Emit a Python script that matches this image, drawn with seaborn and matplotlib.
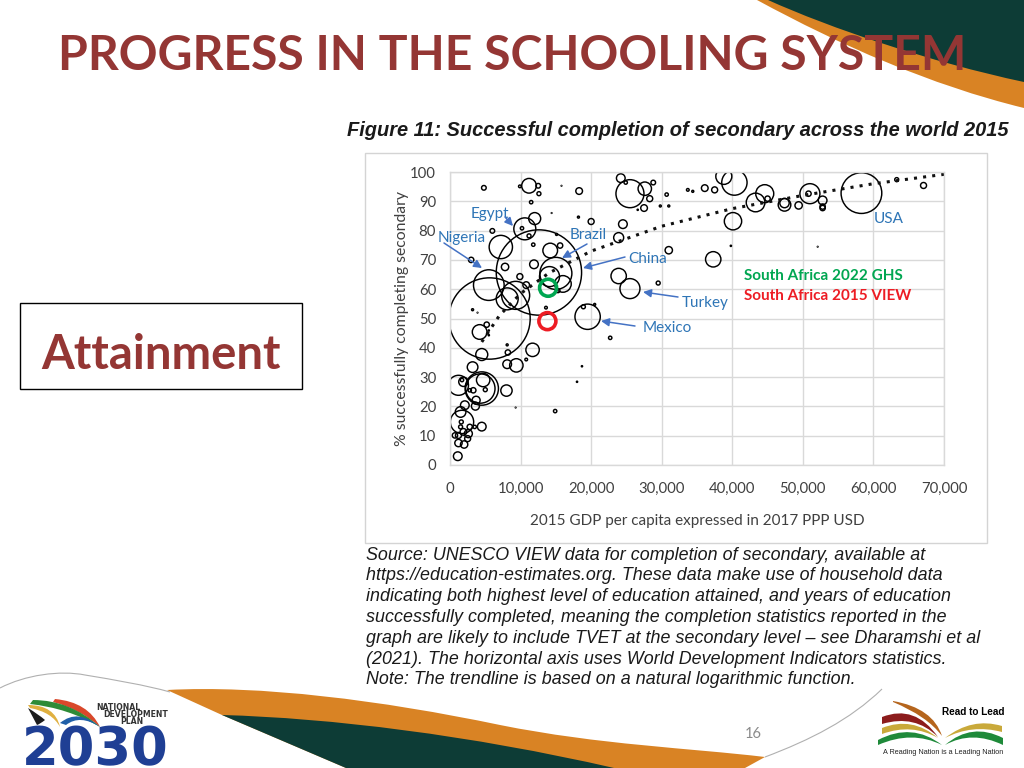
import numpy as np
import pandas as pd
import matplotlib
matplotlib.use("Agg")
import matplotlib.pyplot as plt
from matplotlib.path import Path
from matplotlib.patches import PathPatch, Rectangle
import seaborn as sns

# === Data ===
gdp = [4800, 9900, 11200, 12500, 12600, 11500, 15800, 18300, 14400, 18200, 20000, 12000, 10600, 10200, 6000,
       11200, 7200, 11800, 15100, 14200, 15600, 3000, 7800, 11900, 12600, 5500, 5600, 8100, 9900, 10800,
       9300, 14100, 15000, 16000, 15300, 23900, 25500, 29500, 19500, 18900, 20500, 13600, 22700, 5200, 4200,
       3200, 3900, 5500, 5500, 8100, 8200, 4500, 11700, 10800, 8100, 9400, 3200, 18700, 18000, 1200,
       1900, 4700, 4500, 4300, 5000, 8000, 3700, 3600, 2100, 1500, 9300, 14900, 1700, 4500, 2800,
       1600, 1200, 2600, 1900, 700, 1200, 2000, 2500, 1100, 1500, 3500, 1700, 3300, 2800, 24200,
       24900, 25500, 27600, 28800, 28300, 27500, 26600, 30700, 29800, 31000, 33700, 24500, 23900, 31000, 36100,
       37500, 34400, 40300, 38800, 40100, 43300, 44600, 45000, 47400, 47400, 49400, 51000, 50800, 52800, 52800,
       52800, 58300, 63300, 67100, 37300, 39800, 52100]
completing = [94.6, 95.1, 95.3, 95.3, 92.6, 89.7, 95.3, 93.5, 86, 84.6, 83.1, 84.1, 80.6, 80.8, 79.9,
              78.2, 74.4, 75.2, 78.7, 73.2, 74.9, 70, 67.6, 68.5, 65.7, 61.4, 50, 56.7, 64.3, 61.4,
              57.9, 64.3, 65.4, 61.8, 59.5, 64.5, 60.2, 62.1, 50.6, 54, 54.8, 53.7, 43.4, 47.9, 45.4,
              53, 52, 45.9, 44.3, 41, 38.4, 37.7, 39.3, 36, 34.4, 34, 33.4, 33.7, 28.4, 27.2,
              28.4, 29, 26.1, 26.1, 25.7, 25.4, 22.1, 20.1, 20.4, 18.1, 19.6, 18.4, 14.7, 13.1, 13,
              14.7, 10.1, 10.7, 11.3, 10.1, 7.5, 7, 9, 3, 13, 13, 29, 25.5, 25.5, 97.9,
              96.4, 92.6, 94.3, 96.4, 90.9, 87.7, 87.1, 92.3, 88.4, 88.4, 93.9, 82.2, 77.6, 73.3, 94.5,
              93.9, 93.4, 96.4, 98.5, 83.2, 89.6, 92.6, 90.9, 88.8, 89.4, 88.6, 92.6, 92.6, 90.3, 87.7,
              88.2, 92.8, 97.4, 95.4, 70.2, 74.8, 74.5]
population = [4.2, 1.4, 42, 4.2, 3.1, 2.2, 0.1, 8.7, 0.1, 0.8, 7, 28, 94, 2.2, 4.2,
              3.1, 106, 2.2, 0.8, 42, 5.5, 5.5, 10.5, 14.7, 1420, 183, 1290, 94, 7, 8.7,
              153, 78, 200, 54, 3.1, 46, 78, 3.1, 125, 3.1, 0.8, 1.4, 2.2, 5.5, 42,
              0.8, 0.1, 0.3, 0.3, 0.8, 5.5, 28, 35, 1.4, 14.7, 35, 22, 0.3, 0.3, 78,
              17, 35, 217, 168, 3.1, 25, 12.5, 12.5, 14.7, 22, 0.1, 2.2, 106, 14.7, 5.5,
              3.1, 7, 12.5, 8.7, 5.5, 10.5, 10.5, 7, 14.7, 3.1, 2.2, 2.2, 5.5, 2.2, 14.7,
              2.2, 153, 35, 4.2, 7, 8.7, 0.3, 2.2, 0.8, 0.8, 1.4, 14.7, 19.5, 10.5, 8.7,
              7, 0.8, 125, 50, 58.6, 68, 63, 5.5, 31, 17, 10.5, 78, 5.5, 14.7, 5.5,
              5.5, 323, 3.1, 7, 46, 0.3, 0.1]

trend_x = [4500, 7000, 10000, 14000, 20000, 30000, 40000, 50000, 60000, 70000]
trend_y = [42, 51, 58.5, 65.5, 73, 81.5, 87.5, 92, 96, 99.2]

sa_gdp = [13900, 13800]
sa_completing = [60.5, 49.1]
sa_labels = ["South Africa 2022 GHS", "South Africa 2015 VIEW"]

x_ticks = [0, 10000, 20000, 30000, 40000, 50000, 60000, 70000]
y_ticks = [0, 10, 20, 30, 40, 50, 60, 70, 80, 90, 100]

source_lines = [
    "Source: UNESCO VIEW data for completion of secondary, available at",
    "https://education-estimates.org. These data make use of household data",
    "indicating both highest level of education attained, and years of education",
    "successfully completed, meaning the completion statistics reported in the",
    "graph are likely to include TVET at the secondary level \u2013 see Dharamshi et al",
    "(2021). The horizontal axis uses World Development Indicators statistics.",
    "Note: The trendline is based on a natural logarithmic function.",
]

MAROON = "#943634"
ORANGE = "#d98324"
DARK = "#0d3c36"
LABEL_BLUE = "#2e75b6"
ARROW_BLUE = "#4472c4"

sns.set_theme(style="whitegrid")
plt.rcParams["font.family"] = ["Lato", "DejaVu Sans"]

W, H = 1024, 768
fig = plt.figure(figsize=(W / 100, H / 100), dpi=100, facecolor="white")


def px_axes(z):
    a = fig.add_axes([0, 0, 1, 1], zorder=z)
    a.set_xlim(0, W)
    a.set_ylim(H, 0)
    a.axis("off")
    a.patch.set_alpha(0)
    return a


def bezier(a, pts, color, lw=0, fill=True):
    verts, codes = [], []
    for i, seg in enumerate(pts):
        if i == 0:
            verts.append(seg)
            codes.append(Path.MOVETO)
        elif len(seg) == 2:
            verts.append(seg)
            codes.append(Path.LINETO)
        else:
            verts += [seg[:2], seg[2:4], seg[4:6]]
            codes += [Path.CURVE4] * 3
    a.add_patch(PathPatch(Path(verts, codes), facecolor=color if fill else "none",
                          edgecolor=color, lw=lw))


def crescent(a, p_top, c_top, tip, c_bot, p_bot, color):
    verts = [p_top, c_top, tip, c_bot, p_bot, p_top]
    codes = [Path.MOVETO, Path.CURVE3, Path.CURVE3, Path.CURVE3, Path.CURVE3, Path.LINETO]
    a.add_patch(PathPatch(Path(verts, codes), facecolor=color, edgecolor="none"))


# === Slide background ===
bg = px_axes(0)
bezier(bg, [(757, 0), (840, 45, 930, 85, 1024, 108), (1024, 0)], ORANGE)
bezier(bg, [(768, 0), (830, 28, 930, 62, 1024, 82), (1024, 0)], DARK)
bezier(bg, [(167, 690), (260, 685, 380, 700, 500, 725), (600, 745, 690, 748, 765, 757),
            (745, 768), (346, 768), (222, 715)], ORANGE)
bezier(bg, [(222, 715), (330, 718, 470, 735, 614, 768), (346, 768)], DARK)
bezier(bg, [(0, 688), (25, 675, 60, 670, 85, 675), (115, 680, 145, 685, 170, 692)], "#b0b0b0", lw=0.8, fill=False)
bezier(bg, [(765, 757), (810, 740, 850, 720, 882, 689)], "#b0b0b0", lw=0.8, fill=False)

# Chart picture frame
bg.add_patch(Rectangle((365, 153), 622, 390, facecolor="white", edgecolor="#d4d4d4", lw=1))

# === Bubble chart ===
ax = fig.add_axes([450 / W, 1 - 465 / H, 494 / W, 293 / H], zorder=1)
df = pd.DataFrame({"gdp": gdp, "completing": completing, "population": population})
sns.scatterplot(data=df, x="gdp", y="completing", size="population", sizes=(0.27, 3774),
                size_norm=(0.1, 1420), legend=False, edgecolor="black", linewidth=1.05, ax=ax)
ax.collections[0].set_facecolor("none")
ax.collections[0].set_edgecolor("black")
sns.lineplot(x=trend_x, y=trend_y, color="#111111", lw=2.2, linestyle=(0, (1, 2)), ax=ax)
sns.scatterplot(x=sa_gdp[:1], y=sa_completing[:1], s=150, ax=ax, linewidth=2.6, legend=False)
ax.collections[-1].set_facecolor("none")
ax.collections[-1].set_edgecolor("#00a651")
sns.scatterplot(x=sa_gdp[1:], y=sa_completing[1:], s=150, ax=ax, linewidth=2.6, legend=False)
ax.collections[-1].set_facecolor("none")
ax.collections[-1].set_edgecolor("#ed1c24")

ax.set_xlim(0, 70000)
ax.set_ylim(0, 100)
ax.set_xticks(x_ticks)
ax.set_yticks(y_ticks)
ax.set_xticklabels([f"{v:,}" for v in x_ticks])
ax.grid(True, color="#d9d9d9", lw=1)
ax.set_axisbelow(True)
for s in ax.spines.values():
    s.set_color("#d9d9d9")
    s.set_linewidth(1)
ax.tick_params(axis="x", labelsize=10.7, labelcolor="#404040", length=0, pad=12)
ax.tick_params(axis="y", labelsize=10.7, labelcolor="#404040", length=0, pad=10)
ax.set_xlabel("2015 GDP per capita expressed in 2017 PPP USD", fontsize=11, color="#404040", labelpad=13)
ax.set_ylabel("% successfully completing secondary", fontsize=11.3, color="#404040", labelpad=1)

# === Texts and annotations on top ===
top = px_axes(2)
top.text(512, 56, "PROGRESS IN THE SCHOOLING SYSTEM", fontsize=34.7, fontweight="bold", color=MAROON,
         ha="center", va="center")
top.add_patch(Rectangle((20, 303), 282, 86, facecolor="white", edgecolor="black", lw=1))
top.text(161, 355, "Attainment", fontsize=34, fontweight="bold", color=MAROON, ha="center", va="center")
top.text(347, 130, "Figure 11: Successful completion of secondary across the world 2015",
         family="Liberation Sans", fontsize=14.43, fontweight="bold", fontstyle="italic", color="#1a1a1a", va="center")

for i, line in enumerate(source_lines):
    top.text(366, 555 + i * 20.8, line, family="Liberation Sans", fontsize=12.85, fontstyle="italic",
             color="#1a1a1a", va="center")

for txt, x, y in [("Egypt", 490, 214), ("Nigeria", 462, 238), ("Brazil", 588, 235), ("China", 648, 259),
                  ("Turkey", 705, 303), ("Mexico", 667, 328), ("USA", 889, 219)]:
    top.text(x, y, txt, fontsize=11, color=LABEL_BLUE, ha="center", va="center")

for tail, head in [((505, 217), (513, 226)), ((444, 243), (482, 268)), ((587, 244), (562, 258)),
                   ((625, 257), (583, 268)), ((678, 297), (643, 292)), ((635, 326), (601, 321))]:
    top.annotate("", xy=head, xytext=tail,
                 arrowprops=dict(arrowstyle="-|>", color=ARROW_BLUE, lw=1.1, mutation_scale=12, shrinkA=0, shrinkB=0))

top.text(744, 276, sa_labels[0], fontsize=11, fontweight="bold", color="#00a651", va="center")
top.text(744, 296, sa_labels[1], fontsize=11, fontweight="bold", color="#ed1c24", va="center")

top.text(753, 734, "16", fontsize=10.5, color="#8a8a8a", ha="center", va="center")

# NDP logo
crescent(top, (55, 699), (88, 702), (100, 727), (80, 709), (53, 702), "#d9482b")
crescent(top, (33, 700), (70, 700), (100, 727), (68, 708), (30, 704), "#2e8b37")
crescent(top, (28, 705), (55, 705), (60, 727), (52, 712), (30, 708), "#e0b040")
crescent(top, (28, 708), (38, 714), (45, 720), (40, 724), (37, 725), "#1c1c1c")
crescent(top, (60, 723), (78, 708), (100, 727), (80, 714), (66, 725), "#1f5fa8")
top.text(95, 765, "2030", family="DejaVu Sans", fontsize=38, fontweight="bold", color="#1f3f94",
         ha="center", va="baseline")
top.text(96, 707, "NATIONAL", family="DejaVu Sans", fontsize=5.6, fontweight="bold", color="#333333", va="center")
top.text(103, 714.5, "DEVELOPMENT", family="DejaVu Sans", fontsize=5.6, fontweight="bold", color="#333333", va="center")
top.text(120, 722, "PLAN", family="DejaVu Sans", fontsize=5.6, fontweight="bold", color="#333333", va="center")

# Read to Lead logo
crescent(top, (893, 701), (933, 708), (942, 736), (927, 716), (893, 702), "#b5651d")
crescent(top, (882, 717), (915, 704), (938, 737), (915, 714), (882, 724), "#8c1c1c")
crescent(top, (882, 728), (912, 716), (938, 738), (912, 723), (882, 734), "#c9a93a")
crescent(top, (1002, 726), (972, 717), (945, 738), (972, 724), (1002, 732), "#c9a93a")
crescent(top, (878, 740), (912, 722), (942, 745), (912, 730), (878, 745), "#1f8a3a")
crescent(top, (1003, 738), (972, 722), (945, 745), (972, 730), (1003, 745), "#1f8a3a")
top.text(973, 712, "Read to Lead", family="Liberation Sans", fontsize=7.2, fontweight="bold", color="black", ha="center", va="center")
top.text(943, 752, "A Reading Nation is a Leading Nation", family="Liberation Sans", fontsize=5.2, color="#222222", ha="center", va="center")

fig.savefig("out.png", dpi=100)
